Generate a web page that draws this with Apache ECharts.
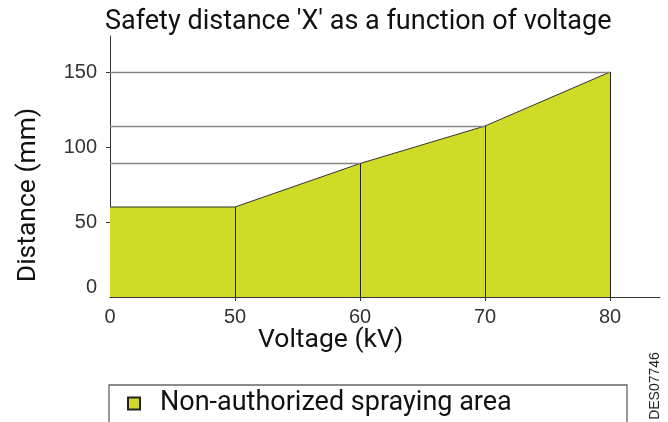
<!DOCTYPE html>
<html>
<head>
<meta charset="utf-8">
<script src="https://cdn.jsdelivr.net/npm/echarts@6/dist/echarts.min.js"></script>
<style>
html,body{margin:0;padding:0;background:#fff;}
#chart{width:668px;height:422px;}
</style>
</head>
<body>
<div id="chart"></div>
<script>
// ---- data ----
const titleText = "Safety distance 'X' as a function of voltage";
const xAxisName = 'Voltage (kV)';
const yAxisName = 'Distance (mm)';
const voltageLabels = ['0', '50', '60', '70', '80'];
const distanceValues = [60, 60, 89, 114, 150];
const yTickValues = [0, 50, 100, 150];
const seriesName = 'Non-authorized spraying area';
const docCode = 'DES07746';

// ---- build ----
const idx = voltageLabels.map((_, i) => i);
const seriesData = idx.map(i => [i, distanceValues[i]]);
const verticalGuides = idx.slice(1).map(i => [
  { coord: [i, 0] }, { coord: [i, distanceValues[i]] }
]);
const horizontalGuides = idx.slice(2).map(i => [
  { coord: [0, distanceValues[i]], lineStyle: { color: '#858585', width: 1.4 } },
  { coord: [i, distanceValues[i]] }
]);

const chart = echarts.init(document.getElementById('chart'), null, { renderer: 'canvas' });
const dinFont = 'Roboto';
chart.setOption({
  animation: false,
  backgroundColor: '#ffffff',
  title: {
    text: titleText,
    left: 105, top: 9, padding: 0,
    textStyle: { fontFamily: dinFont, fontWeight: 'normal', fontSize: 27, color: '#111' }
  },
  grid: { left: 110, right: 8, top: 36, bottom: 125 },
  legend: {
    show: true,
    left: 127, top: 390, padding: 0,
    icon: 'rect', itemWidth: 12, itemHeight: 12,
    itemStyle: { color: '#cedc28', borderColor: '#222', borderWidth: 2 },
    textStyle: { fontFamily: dinFont, fontSize: 27, color: '#111', padding: [0, 0, 0, 15] },
    data: [seriesName]
  },
  xAxis: {
    type: 'value', min: 0, max: 4.4,
    axisLine: { lineStyle: { color: '#333', width: 1 } },
    axisTick: { show: true, length: 4, customValues: idx.slice(1), lineStyle: { color: '#333' } },
    axisLabel: {
      customValues: idx, margin: 10,
      formatter: v => voltageLabels[Math.round(v)],
      fontFamily: 'Liberation Sans', fontSize: 20, color: '#333'
    },
    splitLine: { show: false }
  },
  yAxis: {
    type: 'value', min: 0, max: 174,
    axisLine: { show: true, lineStyle: { color: '#333', width: 1 } },
    axisTick: { show: true, length: 4, customValues: yTickValues.slice(1), lineStyle: { color: '#333' } },
    axisLabel: {
      customValues: yTickValues, margin: 13,
      formatter: v => v === 0 ? '{z|0}' : String(v),
      fontFamily: 'Liberation Sans', fontSize: 20, color: '#333',
      rich: { z: { fontFamily: 'Liberation Sans', fontSize: 20, color: '#333', padding: [0, 0, 20, 0] } }
    },
    splitLine: { show: false }
  },
  series: [{
    name: seriesName,
    type: 'line',
    data: seriesData,
    symbol: 'none',
    itemStyle: { color: '#cedc28', borderColor: '#222', borderWidth: 2 },
    lineStyle: { color: '#333', width: 1 },
    areaStyle: { color: '#cedc28', opacity: 1 },
    markLine: {
      silent: true, symbol: ['none', 'none'], label: { show: false },
      lineStyle: { color: '#222', width: 1, type: 'solid' },
      data: verticalGuides.concat(horizontalGuides)
    }
  }],
  graphic: [
    {
      type: 'text', left: 258, top: 327,
      style: { text: xAxisName, fontFamily: dinFont, fontSize: 26.5, fill: '#111' }
    },
    {
      type: 'text', x: 15, y: 195, rotation: Math.PI / 2,
      style: { text: yAxisName, fontFamily: dinFont, fontSize: 26.5, fill: '#111', align: 'center', verticalAlign: 'top' }
    },
    {
      type: 'rect', shape: { x: 109, y: 385, width: 518, height: 60 },
      style: { fill: 'none', stroke: '#666', lineWidth: 1.3 }
    },
    {
      type: 'text', x: 648, y: 386, rotation: Math.PI / 2,
      style: { text: docCode, fontFamily: 'Liberation Sans', fontSize: 14, fill: '#222', align: 'center', verticalAlign: 'top' }
    }
  ]
});
</script>
</body>
</html>
